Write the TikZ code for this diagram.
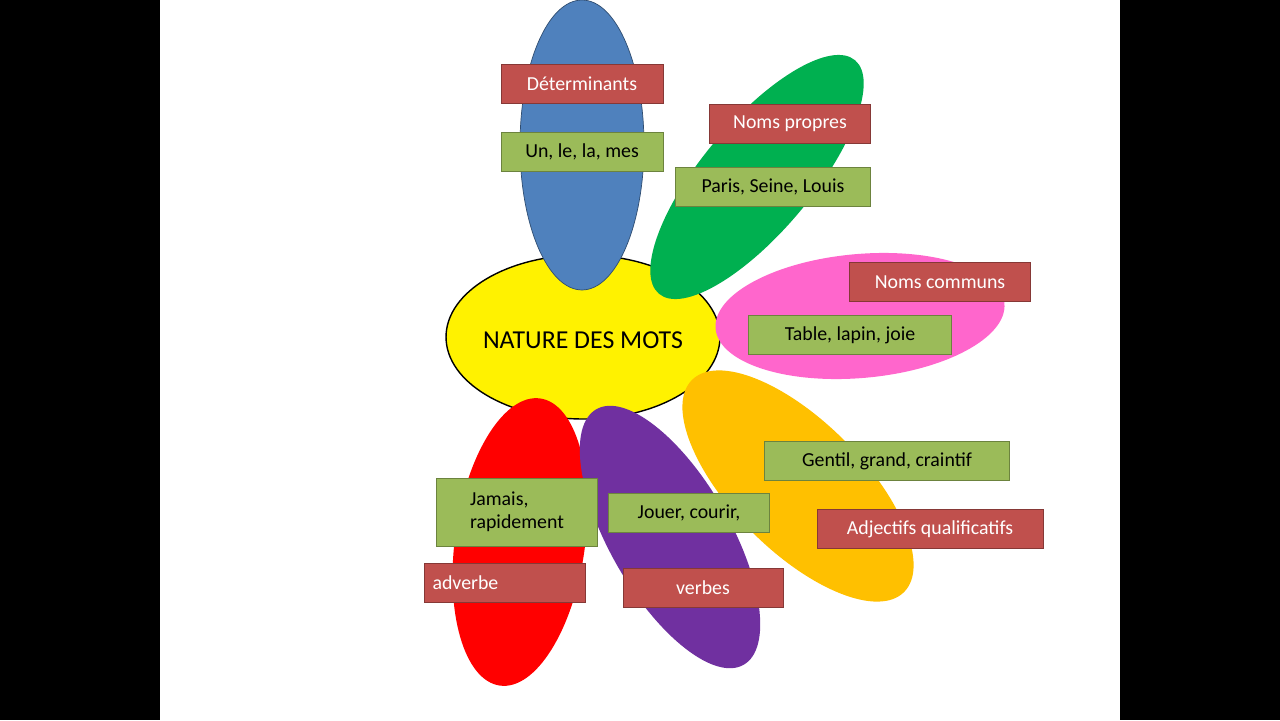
\documentclass[tikz,border=0pt]{standalone}
\usepackage{fontspec}
\setmainfont{Carlito}
\definecolor{boxred}{HTML}{C0504D}
\definecolor{boxgreen}{HTML}{9BBB59}
\definecolor{petalblue}{HTML}{4F81BD}
\definecolor{petalgreen}{HTML}{00B050}
\definecolor{petalpink}{HTML}{FF66CC}
\definecolor{petalorange}{HTML}{FFC000}
\definecolor{petalpurple}{HTML}{7030A0}
\begin{document}
\begin{tikzpicture}[x=0.02cm,y=-0.02cm,
  title/.style={draw=boxred!70!black,fill=boxred,text=white,font=\fontsize{11.3}{13}\selectfont,minimum height=0.78cm,inner sep=2pt},
  words/.style={draw=boxgreen!70!black,fill=boxgreen,text=black,font=\fontsize{11.3}{13}\selectfont,minimum height=0.78cm,inner sep=2pt}]
  \fill[black] (0,0) rectangle (1280,720);
  \fill[white] (160,0) rectangle (1120,720);
  \useasboundingbox (0,0) rectangle (1280,720);
  % centre
  \draw[fill=yellow,thick] (583,337) ellipse (2.74cm and 1.64cm);
  \node (centre) at (583,340) {\fontsize{14.7}{17}\selectfont NATURE DES MOTS};
  % petals
  \draw[fill=petalblue,draw=petalblue!60!black] (582,145) ellipse (1.24cm and 2.9cm);
  \fill[petalgreen,rotate around={50:(757,177)}] (757,177) ellipse (3.05cm and 1.1cm);
  \fill[petalpink,rotate around={5:(860,316)}] (860,316) ellipse (2.9cm and 1.24cm);
  \fill[petalorange,rotate around={-45:(798,486)}] (798,486) ellipse (3.0cm and 1.3cm);
  \fill[red,rotate around={82:(520,542)}] (520,542) ellipse (2.9cm and 1.3cm);
  \fill[petalpurple,rotate around={-60:(670,537)}] (670,537) ellipse (2.95cm and 1.2cm);
  % labels
  \node[title,minimum width=3.24cm] (det) at (582,84) {Déterminants};
  \node[words,minimum width=3.24cm] (detw) at (582,152) {Un, le, la, mes};
  \node[title,minimum width=3.22cm] (propres) at (790,124) {Noms propres};
  \node[words,minimum width=3.9cm] (propresw) at (773,187) {Paris, Seine, Louis};
  \node[title,minimum width=3.62cm] (communs) at (940,282) {Noms communs};
  \node[words,minimum width=4.06cm] (communsw) at (850,335) {Table, lapin, joie};
  \node[words,minimum width=4.9cm] (adjw) at (887,461) {Gentil, grand, craintif};
  \node[title,minimum width=4.52cm] (adj) at (930,529) {Adjectifs qualificatifs};
  \node[words,minimum width=3.22cm,minimum height=1.36cm,align=left] (advw) at (517,512) {Jamais,\\rapidement};
  \node[words,minimum width=3.22cm] (verbw) at (689,513) {Jouer, courir,};
  \node[title,minimum width=3.22cm,text width=2.9cm,align=left] (adv) at (505,583) {adverbe};
  \node[title,minimum width=3.2cm] (verb) at (703,588) {verbes};
\end{tikzpicture}
\end{document}
